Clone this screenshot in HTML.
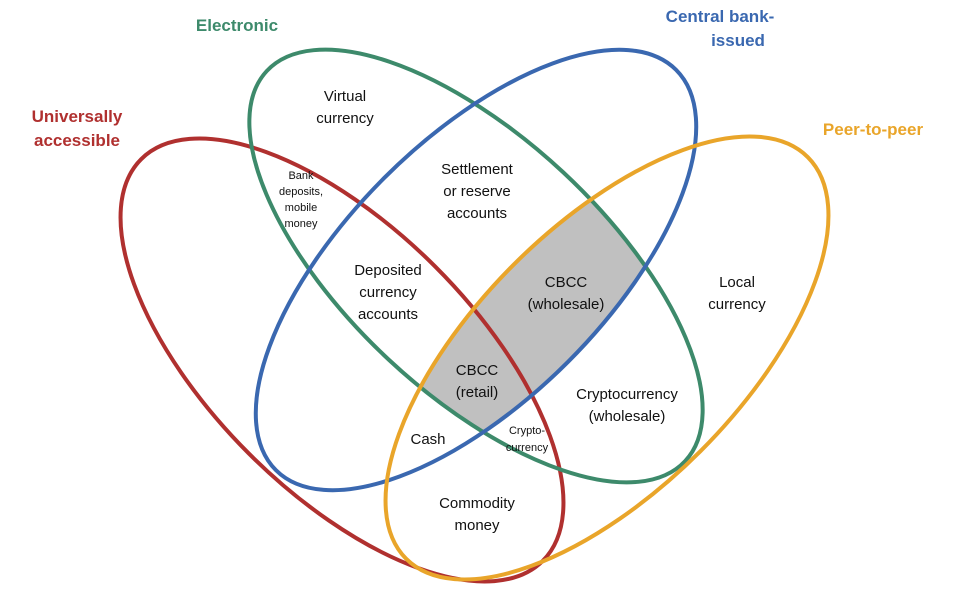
<!DOCTYPE html>
<html><head><meta charset="utf-8"><style>
html,body{margin:0;padding:0;background:#fff;overflow:hidden}
svg{display:block}
svg text{font-family:"Liberation Sans",sans-serif;}
</style></head><body>
<svg width="953" height="589" viewBox="0 0 953 589">
<defs>
<clipPath id="cg"><ellipse cx="476" cy="266" rx="286" ry="128" transform="rotate(43 476 266)"/></clipPath>
<clipPath id="co"><ellipse cx="607" cy="358" rx="284" ry="132" transform="rotate(-45 607 358)"/></clipPath>
</defs>
<g clip-path="url(#cg)"><g clip-path="url(#co)">
<ellipse cx="476" cy="270" rx="283" ry="130" transform="rotate(-45 476 270)" fill="#c0c0c0"/>
</g></g>
<ellipse cx="342" cy="360" rx="284" ry="132" transform="rotate(45 342 360)" fill="none" stroke="#b0302f" stroke-width="4"/>
<ellipse cx="476" cy="266" rx="286" ry="128" transform="rotate(43 476 266)" fill="none" stroke="#3d8a6b" stroke-width="4"/>
<ellipse cx="476" cy="270" rx="283" ry="130" transform="rotate(-45 476 270)" fill="none" stroke="#3a68b0" stroke-width="4"/>
<ellipse cx="607" cy="358" rx="284" ry="132" transform="rotate(-45 607 358)" fill="none" stroke="#e9a52a" stroke-width="4"/>
<g font-weight="bold" font-size="17">
<text x="237" y="31" text-anchor="middle" fill="#3d8a6b">Electronic</text>
<text x="720" y="22" text-anchor="middle" fill="#3a68b0">Central bank-</text>
<text x="738" y="46" text-anchor="middle" fill="#3a68b0">issued</text>
<text x="77" y="122" text-anchor="middle" fill="#b0302f">Universally</text>
<text x="77" y="146" text-anchor="middle" fill="#b0302f">accessible</text>
<text x="873" y="135" text-anchor="middle" fill="#e9a52a">Peer-to-peer</text>
</g>
<g font-size="15" fill="#111" text-anchor="middle">
<text x="345" y="101">Virtual</text><text x="345" y="123">currency</text>
<text x="477" y="174">Settlement</text><text x="477" y="196">or reserve</text><text x="477" y="218">accounts</text>
<text x="388" y="275">Deposited</text><text x="388" y="297">currency</text><text x="388" y="319">accounts</text>
<text x="566" y="287">CBCC</text><text x="566" y="309">(wholesale)</text>
<text x="737" y="287">Local</text><text x="737" y="309">currency</text>
<text x="477" y="375">CBCC</text><text x="477" y="397">(retail)</text>
<text x="627" y="399">Cryptocurrency</text><text x="627" y="421">(wholesale)</text>
<text x="428" y="444">Cash</text>
<text x="477" y="508">Commodity</text><text x="477" y="530">money</text>
</g>
<g font-size="11" fill="#111" text-anchor="middle">
<text x="301" y="179">Bank</text><text x="301" y="195">deposits,</text><text x="301" y="211">mobile</text><text x="301" y="227">money</text>
<text x="527" y="434">Crypto-</text><text x="527" y="451">currency</text>
</g>
</svg>
</body></html>
